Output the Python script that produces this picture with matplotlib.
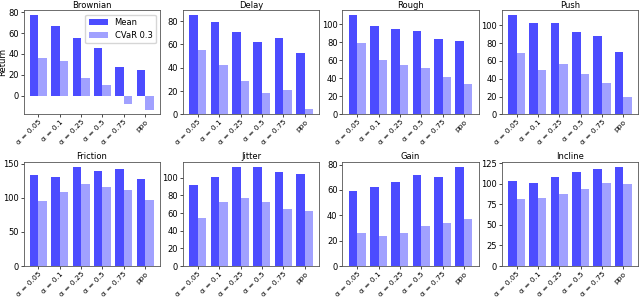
import matplotlib
matplotlib.use("Agg")
import matplotlib.pyplot as plt
import numpy as np

labels = ["α = 0.05", "α = 0.1", "α = 0.25", "α = 0.5", "α = 0.75", "ppo"]
titles = ["Brownian", "Delay", "Rough", "Push", "Friction", "Jitter", "Gain", "Incline"]

brownian_mean = [77, 67, 55, 46, 28, 25]
brownian_cvar = [36, 33, 17, 10, -8, -13]
delay_mean = [85, 79, 71, 62, 66, 53]
delay_cvar = [55, 42, 29, 18, 21, 5]
rough_mean = [110, 98, 95, 93, 84, 81]
rough_cvar = [79, 60, 55, 51, 41, 34]
push_mean = [111, 103, 102, 92, 88, 70]
push_cvar = [69, 50, 57, 45, 35, 20]
friction_mean = [133, 130, 145, 140, 142, 128]
friction_cvar = [96, 109, 121, 116, 111, 97]
jitter_mean = [92, 101, 112, 112, 106, 104]
jitter_cvar = [54, 72, 77, 73, 65, 62]
gain_mean = [59, 62, 66, 72, 70, 78]
gain_cvar = [26, 24, 26, 32, 34, 37]
incline_mean = [103, 101, 108, 114, 118, 120]
incline_cvar = [81, 83, 87, 94, 101, 99]

means = [brownian_mean, delay_mean, rough_mean, push_mean,
         friction_mean, jitter_mean, gain_mean, incline_mean]
cvars = [brownian_cvar, delay_cvar, rough_cvar, push_cvar,
         friction_cvar, jitter_cvar, gain_cvar, incline_cvar]

fs = 6
xfs = 5.4
fig, axes = plt.subplots(2, 4, figsize=(6.4, 2.98), dpi=100)
fig.subplots_adjust(left=0.037, right=0.997, top=0.965, bottom=0.107,
                    wspace=0.17, hspace=0.46)
x = np.arange(len(labels))
w = 0.4
for i, ax in enumerate(axes.flat):
    ax.bar(x - w / 2, means[i], w, color="blue", alpha=0.7, label="Mean")
    ax.bar(x + w / 2, cvars[i], w, color="blue", alpha=0.37, label="CVaR 0.3")
    ax.set_title(titles[i], fontsize=fs, pad=2)
    ax.set_xticks(x)
    ax.set_xticklabels(labels, rotation=45, ha="right", rotation_mode="anchor", fontsize=xfs)
    ax.tick_params(axis="y", labelsize=fs, length=2, pad=1.5, width=0.5)
    ax.tick_params(axis="x", length=2, pad=1.2, width=0.5)
    for s in ax.spines.values():
        s.set_linewidth(0.6)
        s.set_color("#555555")
    if i == 0:
        ax.set_ylabel("Return", fontsize=fs, labelpad=0.5)
        ax.legend(fontsize=fs, loc="upper right", handlelength=2.3, borderpad=0.4)

fig.savefig("out.png", dpi=100)
